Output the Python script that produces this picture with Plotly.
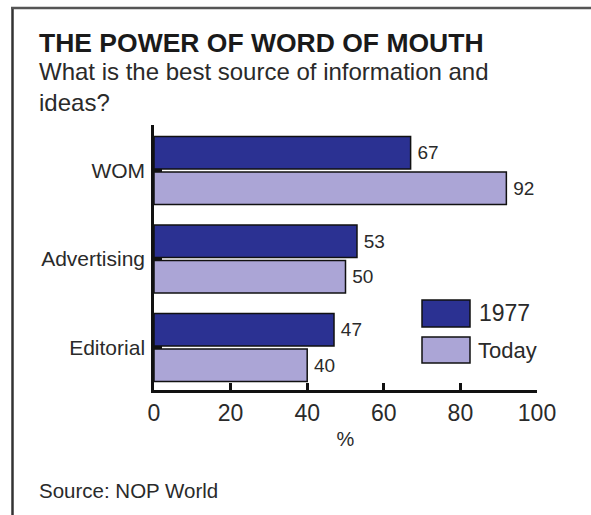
import plotly.graph_objects as go

categories = ["WOM", "Advertising", "Editorial"]
series_names = ["1977", "Today"]
values_1977 = [67, 53, 47]
values_today = [92, 50, 40]
x_ticks = [0, 20, 40, 60, 80, 100]

title = "THE POWER OF WORD OF MOUTH"
subtitle_lines = ["What is the best source of information and", "ideas?"]
x_title = "%"
source = "Source: NOP World"

W, H = 591, 515
L, R, T, B = 154, 54, 125, 125
PW, PH = W - L - R, H - T - B

def px(x):
    return (x - L) / PW

def py(y):
    return (H - B - y) / PH

FONT = "Liberation Sans, Arial, sans-serif"
TXT = "#2a2a2a"
DARK = "#2b3192"
LIGHT = "#aba5d6"

pos = list(range(len(categories)))

fig = go.Figure()
fig.add_trace(go.Bar(
    y=pos, x=values_1977, orientation="h", name=series_names[0],
    marker=dict(color=DARK, line=dict(color="#111111", width=1.5)),
    text=values_1977, texttemplate="\u2009%{x}", textposition="outside", cliponaxis=False,
    textfont=dict(family=FONT, size=19, color=TXT),
))
fig.add_trace(go.Bar(
    y=pos, x=values_today, orientation="h", name=series_names[1],
    marker=dict(color=LIGHT, line=dict(color="#111111", width=1.5)),
    text=values_today, texttemplate="\u2009%{x}", textposition="outside", cliponaxis=False,
    textfont=dict(family=FONT, size=19, color=TXT),
))

fig.update_layout(
    width=W, height=H,
    margin=dict(l=L, r=R, t=T, b=B, pad=0),
    paper_bgcolor="white", plot_bgcolor="white",
    barmode="group", bargap=0.196, bargroupgap=0.085,
    showlegend=False,
    font=dict(family=FONT, color=TXT),
    xaxis=dict(
        range=[0, 100], tickvals=x_ticks, ticktext=[str(t) for t in x_ticks],
        showgrid=False, zeroline=False,
        showline=True, linecolor="#111111", linewidth=3,
        ticks="inside", ticklen=7, tickwidth=2.5, tickcolor="#111111",
        tickfont=dict(family=FONT, size=23, color=TXT),
        title=dict(text=x_title, font=dict(family=FONT, size=20, color=TXT), standoff=8),
        fixedrange=True,
    ),
    yaxis=dict(
        range=[2.48, -0.514], tickvals=pos, ticktext=categories,
        showgrid=False, zeroline=False,
        showline=True, linecolor="#111111", linewidth=2.5,
        ticks="inside", ticklen=8, tickwidth=3, tickcolor="#111111",
        tickfont=dict(family=FONT, size=21, color=TXT),
        ticklabelstandoff=2,
        fixedrange=True,
    ),
)

annotations = [
    dict(text="<b>" + title + "</b>", x=px(37), y=py(43), font=dict(size=26.5, color="#1a1a1a")),
    dict(text="<br>".join(subtitle_lines), x=px(37), y=py(87), font=dict(size=24, color=TXT),
         align="left"),
    dict(text=source, x=px(37), y=py(490), font=dict(size=20.5, color=TXT)),
    dict(text=series_names[0], x=px(477), y=py(313), font=dict(size=23, color=TXT)),
    dict(text=series_names[1], x=px(476), y=py(350), font=dict(size=22, color=TXT)),
]
for a in annotations:
    a.update(xref="paper", yref="paper", xanchor="left", yanchor="middle",
             showarrow=False)
    a["font"]["family"] = FONT
fig.update_layout(annotations=annotations)

shapes = [
    # legend boxes
    dict(type="rect", x0=px(422), x1=px(470), y0=py(300), y1=py(327),
         fillcolor=DARK, line=dict(color="#111111", width=1.5)),
    dict(type="rect", x0=px(422), x1=px(470), y0=py(337), y1=py(363),
         fillcolor=LIGHT, line=dict(color="#111111", width=1.5)),
    # frame lines
    dict(type="line", x0=px(12.5), x1=px(12.5), y0=py(7), y1=py(520),
         line=dict(color="#333333", width=2.5)),
    dict(type="line", x0=px(11), x1=px(600), y0=py(8), y1=py(8),
         line=dict(color="#555555", width=2.5)),
]
for s in shapes:
    s.update(xref="paper", yref="paper", layer="above")
fig.update_layout(shapes=shapes)

fig.write_html("out.html")
